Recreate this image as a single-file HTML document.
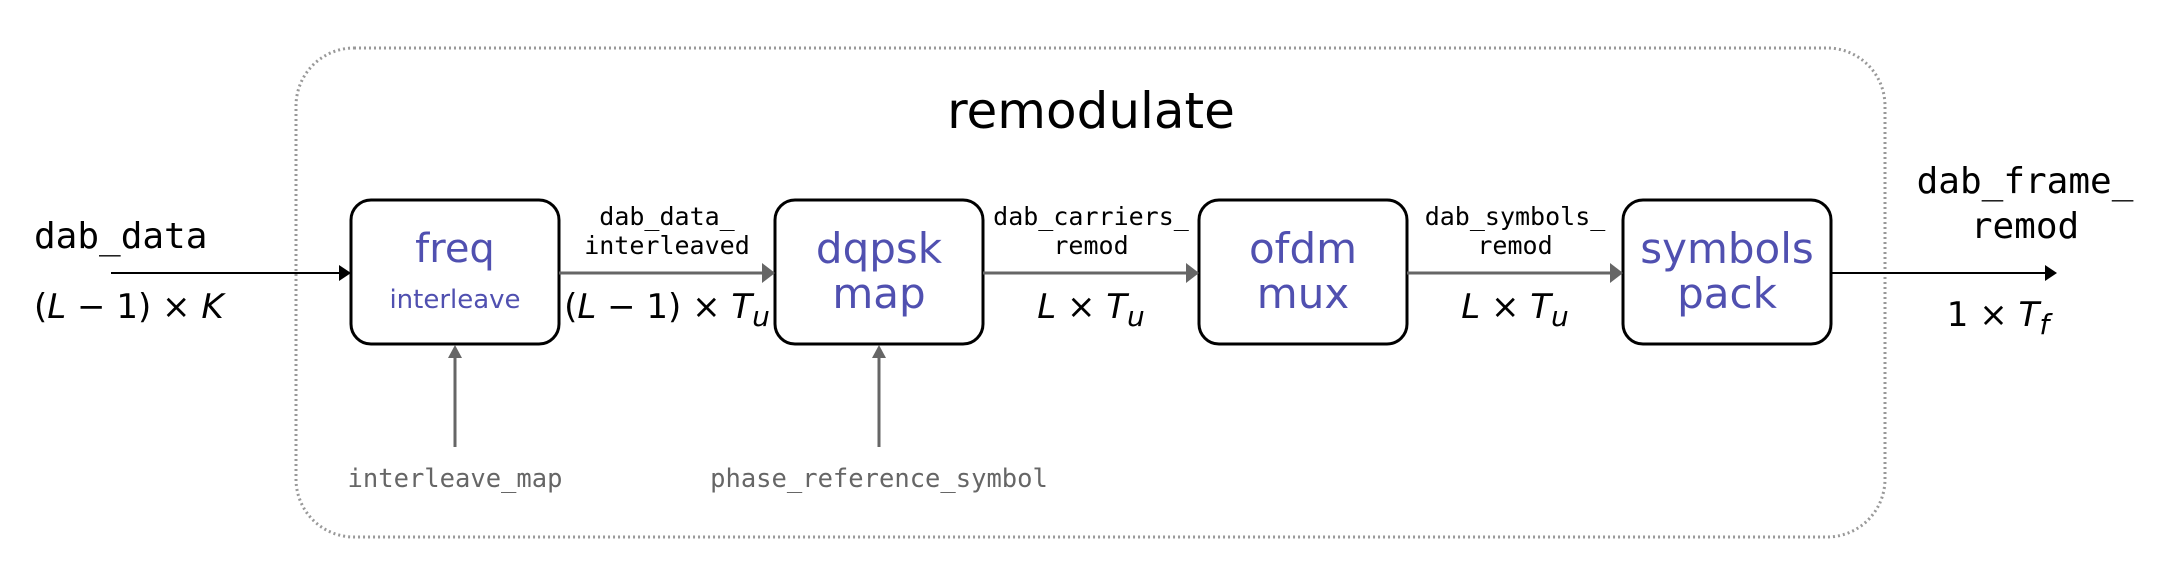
<!DOCTYPE html>
<html><head><meta charset="utf-8"><style>
html,body{margin:0;padding:0;background:#fff;}
svg{display:block;}
.mono{font-family:"DejaVu Sans Mono","Liberation Mono",monospace;}
.sans{font-family:"DejaVu Sans","Liberation Sans",sans-serif;}
.blk{fill:#5050b0;}
.math{font-family:"DejaVu Sans","Liberation Sans",sans-serif;font-size:34px;fill:#000;}
</style></head><body>
<svg width="2178" height="572" viewBox="0 0 2178 572" xmlns="http://www.w3.org/2000/svg">
<defs>
<marker id="ab" markerWidth="10" markerHeight="10" refX="9" refY="5" orient="auto" markerUnits="userSpaceOnUse"><path d="M0,0 L14,5 L0,10z" transform="scale(0.7,1)" fill="#000"/></marker>
</defs>
<rect x="296" y="48" width="1589" height="489" rx="58" fill="none" stroke="#999" stroke-width="3" stroke-dasharray="2,3"/>
<text x="1091" y="128" class="sans" font-size="50" text-anchor="middle">remodulate</text>

<!-- input arrow -->
<line x1="111" y1="273" x2="340" y2="273" stroke="#000" stroke-width="2"/>
<path d="M339,265 L351,273 L339,281z" fill="#000"/>
<text x="34" y="248" class="mono" font-size="36">dab_data</text>
<text x="34" y="318" class="math"><tspan>(</tspan><tspan font-style="italic">L</tspan><tspan> − 1) × </tspan><tspan font-style="italic">K</tspan></text>

<!-- boxes -->
<g fill="#fff" stroke="#000" stroke-width="3">
<rect x="351" y="200" width="208" height="144" rx="20"/>
<rect x="775" y="200" width="208" height="144" rx="20"/>
<rect x="1199" y="200" width="208" height="144" rx="20"/>
<rect x="1623" y="200" width="208" height="144" rx="20"/>
</g>
<g class="sans blk" text-anchor="middle">
<text x="455" y="262" font-size="40">freq</text>
<text x="455" y="308" font-size="26">interleave</text>
<text x="879" y="263" font-size="42">dqpsk</text>
<text x="879" y="308" font-size="42">map</text>
<text x="1303" y="263" font-size="42">ofdm</text>
<text x="1303" y="308" font-size="42">mux</text>
<text x="1727" y="263" font-size="42">symbols</text>
<text x="1727" y="308" font-size="42">pack</text>
</g>

<!-- inter-box arrows -->
<g stroke="#666" stroke-width="3">
<line x1="559" y1="273" x2="765" y2="273"/>
<line x1="983" y1="273" x2="1189" y2="273"/>
<line x1="1407" y1="273" x2="1613" y2="273"/>
<line x1="455" y1="447" x2="455" y2="355"/>
<line x1="879" y1="447" x2="879" y2="355"/>
</g>
<g fill="#666">
<path d="M762,263 L775,273 L762,283z"/>
<path d="M1186,263 L1199,273 L1186,283z"/>
<path d="M1610,263 L1623,273 L1610,283z"/>
<path d="M448,358 L455,345 L462,358z"/>
<path d="M872,358 L879,345 L886,358z"/>
</g>

<g class="mono" font-size="25" text-anchor="middle">
<text x="667" y="225">dab_data_</text>
<text x="667" y="254">interleaved</text>
<text x="1091" y="225">dab_carriers_</text>
<text x="1091" y="254">remod</text>
<text x="1515" y="225">dab_symbols_</text>
<text x="1515" y="254">remod</text>
</g>
<text x="667" y="318" class="math" text-anchor="middle"><tspan>(</tspan><tspan font-style="italic">L</tspan><tspan> − 1) × </tspan><tspan font-style="italic">T</tspan><tspan font-style="italic" font-size="28" dy="8">u</tspan></text>
<text x="1091" y="318" class="math" text-anchor="middle"><tspan font-style="italic">L</tspan><tspan> × </tspan><tspan font-style="italic">T</tspan><tspan font-style="italic" font-size="28" dy="8">u</tspan></text>
<text x="1515" y="318" class="math" text-anchor="middle"><tspan font-style="italic">L</tspan><tspan> × </tspan><tspan font-style="italic">T</tspan><tspan font-style="italic" font-size="28" dy="8">u</tspan></text>

<g class="mono" font-size="25.5" fill="#666" text-anchor="middle">
<text x="455" y="487">interleave_map</text>
<text x="879" y="487">phase_reference_symbol</text>
</g>

<!-- output -->
<line x1="1831" y1="273" x2="2046" y2="273" stroke="#000" stroke-width="2"/>
<path d="M2045,265 L2057,273 L2045,281z" fill="#000"/>
<g class="mono" font-size="36" text-anchor="middle">
<text x="2025" y="193">dab_frame_</text>
<text x="2025" y="238">remod</text>
</g>
<text x="1998" y="326" class="math" text-anchor="middle"><tspan>1 × </tspan><tspan font-style="italic">T</tspan><tspan font-style="italic" font-size="28" dy="8">f</tspan></text>
</svg>
</body></html>
